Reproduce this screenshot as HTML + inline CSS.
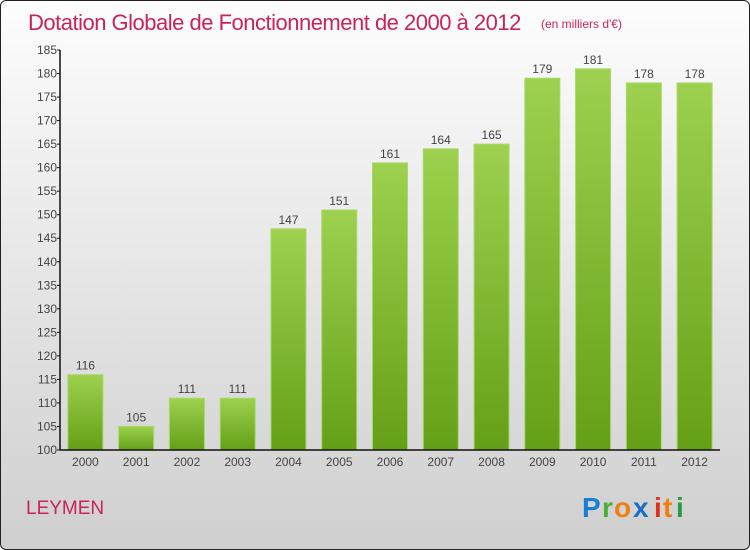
<!DOCTYPE html>
<html><head><meta charset="utf-8"><style>
html,body{margin:0;padding:0;}
body{width:750px;height:550px;overflow:hidden;font-family:"Liberation Sans",sans-serif;}
#frame{position:absolute;left:0;top:0;width:748px;height:548px;border:1px solid #222;border-radius:6px;background:linear-gradient(#fdfdfd,#e6e6e6 50%,#cfcfcf);}
</style></head><body>
<div id="frame"></div>
<svg id="chart" width="750" height="550" style="position:absolute;left:0;top:0">
<defs>
<linearGradient id="bg" x1="0" y1="0" x2="0" y2="1"><stop offset="0" stop-color="#9dd14f"/><stop offset="1" stop-color="#64a017"/></linearGradient>
</defs>
<text x="28" y="30" font-size="22" fill="#c8245a" style="letter-spacing:-0.5px">Dotation Globale de Fonctionnement de 2000 à 2012</text>
<text x="541" y="28" font-size="12" fill="#c8245a">(en milliers d'€)</text>
<text x="26" y="514" font-size="19" fill="#c8245a">LEYMEN</text>
<g font-size="28" font-weight="bold" font-family="'Liberation Sans',sans-serif">
<text x="582" y="517" fill="#1a7fd4">P</text><text x="602" y="517" fill="#4caf3a">r</text><text x="614" y="517" fill="#f07f10">o</text><text x="633" y="517" fill="#1a6fc4">x</text><text x="654" y="517" fill="#e03020">i</text><text x="663" y="517" fill="#f07f10">t</text><text x="676" y="517" fill="#2a9a40">i</text>
</g>
<g id="plot"></g>
</svg>
<script>
const categories=["2000","2001","2002","2003","2004","2005","2006","2007","2008","2009","2010","2011","2012"];
const values=[116,105,111,111,147,151,161,164,165,179,181,178,178];
const ticks=[100,105,110,115,120,125,130,135,140,145,150,155,160,165,170,175,180,185];
const NS="http://www.w3.org/2000/svg";
const x0=60,x1=720,yTop=50,yBot=450,vMin=100,vMax=185;
const step=(x1-x0)/categories.length;
function y(v){return yBot-(v-vMin)/(vMax-vMin)*(yBot-yTop);}
function xc(i){return x0+(i+0.5)*step;}
const g=document.getElementById('plot');
function mk(t,a){const e=document.createElementNS(NS,t);for(const k in a)e.setAttribute(k,a[k]);g.appendChild(e);return e;}
values.forEach((v,i)=>{
 const r=mk('rect',{x:xc(i)-17.5,y:y(v),width:35,height:yBot-y(v),fill:'url(#bg)',stroke:'#a8d86a','stroke-width':1});
 
 
 const t=mk('text',{x:xc(i),y:y(v)-5,'font-size':12,fill:'#444','text-anchor':'middle'});
 t.textContent=v;
 
 
 const c=mk('text',{x:xc(i),y:466,'font-size':12,fill:'#444','text-anchor':'middle'});
 c.textContent=categories[i];
 
 
});
const ya=mk('line',{x1:x0,y1:yTop,x2:x0,y2:yBot,stroke:'#111','stroke-width':1.5});


const xa=mk('line',{x1:x0,y1:yBot,x2:x1,y2:yBot,stroke:'#111','stroke-width':1.5});


ticks.forEach(v=>{
 mk('line',{x1:x0-3,y1:y(v),x2:x0,y2:y(v),stroke:'#111'});
 const t=mk('text',{x:x0-3,y:y(v)+4,'font-size':12,fill:'#444','text-anchor':'end'});
 t.textContent=v;
 
 
});
</script>
</body></html>
